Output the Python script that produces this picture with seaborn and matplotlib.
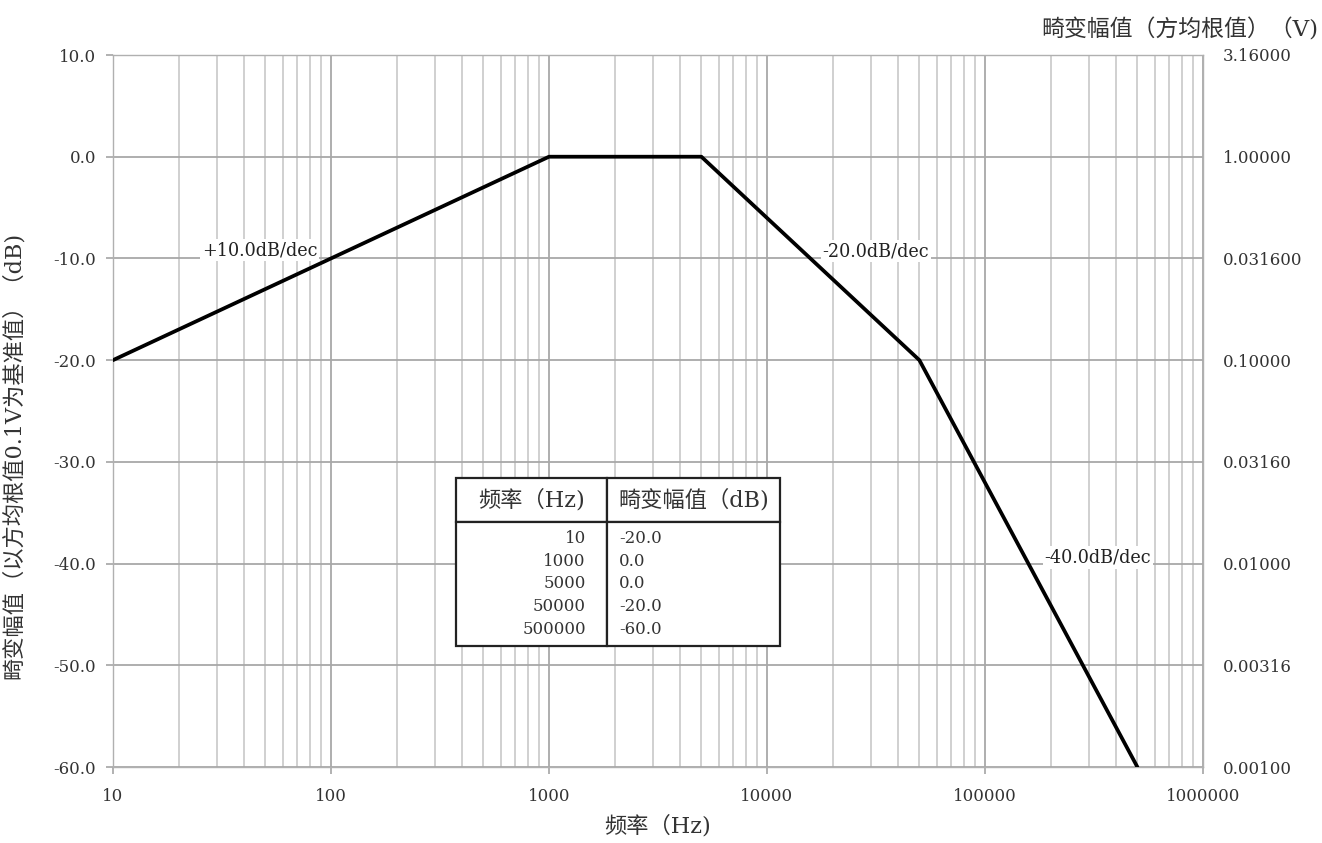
import numpy as np
import pandas as pd
import matplotlib
matplotlib.use("Agg")
import matplotlib.pyplot as plt
from matplotlib.ticker import LogLocator, FixedLocator, NullFormatter
import seaborn as sns

freq_hz = [10, 1000, 5000, 50000, 500000]
level_db = [-20.0, 0.0, 0.0, -20.0, -60.0]

y_ticks = [-60, -50, -40, -30, -20, -10, 0, 10]
left_labels = ["-60.0", "-50.0", "-40.0", "-30.0", "-20.0", "-10.0", "0.0", "10.0"]
right_labels = ["0.00100", "0.00316", "0.01000", "0.03160", "0.10000",
                "0.031600", "1.00000", "3.16000"]
x_ticks = [10, 100, 1000, 10000, 100000, 1000000]
x_labels = ["10", "100", "1000", "10000", "100000", "1000000"]

slope_labels = ["+10.0dB/dec", "-20.0dB/dec", "-40.0dB/dec"]
slope_x = [47, 31600, 330000]
slope_y = [-9.2, -9.3, -39.4]

table_header = ["频率（Hz)", "畸变幅值（dB)"]

sns.set_theme(style="white")
plt.rcParams["font.family"] = ["DejaVu Serif", "Noto Sans CJK SC"]
plt.rcParams["axes.unicode_minus"] = False

df = pd.DataFrame({"freq": freq_hz, "db": level_db})

fig = plt.figure(figsize=(13.22, 8.43), dpi=100)
ax = fig.add_axes([113 / 1322, 1 - 767 / 843, 1090 / 1322, 712 / 843])

sns.lineplot(data=df, x="freq", y="db", ax=ax, color="black", linewidth=2.7,
             zorder=5)
ax.set_xscale("log")
ax.set_xlim(10, 1e6)
ax.set_ylim(-60, 10)

ax.xaxis.set_major_locator(FixedLocator(x_ticks))
ax.set_xticklabels(x_labels)
ax.xaxis.set_minor_locator(LogLocator(base=10, subs=np.arange(2, 10)))
ax.xaxis.set_minor_formatter(NullFormatter())
ax.set_yticks(y_ticks)
ax.set_yticklabels(left_labels)

ax.grid(which="major", axis="both", color="#a8a8a8", linewidth=1.3)
ax.grid(which="minor", axis="x", color="#c4c4c4", linewidth=1.1)
for s in ax.spines.values():
    s.set_color("#b0b0b0")
    s.set_linewidth(1.0)

ax.tick_params(axis="both", which="major", length=5, color="#a8a8a8",
               labelsize=12, labelcolor="#333333", bottom=True, left=True)
ax.tick_params(axis="x", which="major", pad=10)
ax.tick_params(axis="y", which="major", pad=7)
ax.tick_params(axis="x", which="minor", length=0)

ax.set_xlabel("频率（Hz)", fontsize=16, color="#333333")
ax.xaxis.set_label_coords(0.5, -0.068)
ax.set_ylabel("畸变幅值（以方均根值0.1V为基准值）（dB)", fontsize=16,
              color="#333333")
ax.yaxis.set_label_coords(-0.081, 0.437)

ax2 = ax.twinx()
ax2.set_ylim(ax.get_ylim())
ax2.set_yticks(y_ticks)
ax2.set_yticklabels(right_labels)
ax2.tick_params(axis="y", length=0, pad=14, labelsize=12, labelcolor="#333333")
for s in ax2.spines.values():
    s.set_visible(False)

fig.text(1318 / 1322, 1 - 30 / 843, "畸变幅值（方均根值）（V)", fontsize=16.5,
         color="#333333", ha="right", va="center")

for lbl, xv, yv in zip(slope_labels, slope_x, slope_y):
    ax.text(xv, yv, lbl, fontsize=12.7, color="#222222", ha="center",
            va="center", zorder=6,
            bbox=dict(boxstyle="square,pad=0.12", fc="white", ec="none"))

# table of corner points
cell_text = [table_header,
             ["\n".join(str(f) for f in freq_hz),
              "\n".join(f"{v:.1f}" for v in level_db)]]
tb = ax.table(cellText=cell_text, cellLoc="center",
              bbox=[(456 - 113) / 1090, (767 - 646) / 712,
                    (780 - 456) / 1090, (646 - 478) / 712],
              colWidths=[151, 173], zorder=7)
tb.auto_set_font_size(False)
for (r, c), cell in tb.get_celld().items():
    cell.set_edgecolor("#222222")
    cell.set_linewidth(1.6)
    cell.set_facecolor("white")
    cell.set_height(44 if r == 0 else 124)
    txt = cell.get_text()
    txt.set_color("#333333")
    if r == 0:
        txt.set_fontsize(16)
    else:
        txt.set_fontsize(12)
        txt.set_linespacing(1.45)
        if c == 0:
            cell.set_text_props(ha="right")
            cell.PAD = 0.14
        else:
            cell.set_text_props(ha="left")
            cell.PAD = 0.07

fig.savefig("out.png", dpi=100)
